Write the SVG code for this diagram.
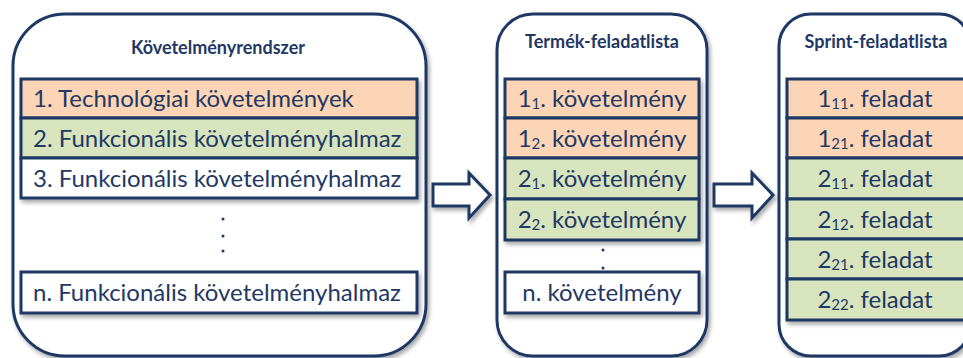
<svg xmlns="http://www.w3.org/2000/svg" width="963" height="358" viewBox="0 0 963 358">
<style>
.box{fill:#fff;stroke:#1f3864;stroke-width:3}
.row{stroke:#1f3864;stroke-width:3}
.o{fill:#fbd5b5}.g{fill:#d7e4bd}.w{fill:#fff}
.title{font-family:Lato,"Open Sans",sans-serif;font-weight:bold;font-size:18px;fill:#1f3864;text-anchor:middle}
.t{font-family:Lato,"Open Sans",sans-serif;font-size:24px;fill:#1f3864}
.c{text-anchor:middle}
.sub{font-size:15px}
.arrow{fill:#fff;stroke:#1f3864;stroke-width:3;stroke-linejoin:miter}
.dot{fill:#1f3864}
</style>
<defs>
<filter id="sh" x="-10%" y="-10%" width="130%" height="130%">
<feDropShadow dx="2" dy="3" stdDeviation="2" flood-color="#000" flood-opacity="0.35"/>
</filter>
</defs>
<g id="kovetelmenyrendszer">
<rect class="box" x="13" y="14" width="413" height="342" rx="52" filter="url(#sh)"/>
<text class="title" x="218" y="54">Követelményrendszer</text>
<g filter="url(#sh)">
<rect class="row o" x="21" y="79" width="396" height="39"/>
<rect class="row g" x="21" y="118" width="396" height="40"/>
<rect class="row w" x="21" y="158" width="396" height="40"/>
</g>
<rect class="row w" x="21" y="272" width="396" height="41" filter="url(#sh)"/>
<text class="t" x="33" y="107">1. Technológiai követelmények</text>
<text class="t" x="33" y="147">2. Funkcionális követelményhalmaz</text>
<text class="t" x="33" y="187">3. Funkcionális követelményhalmaz</text>
<text class="t" x="33" y="301">n. Funkcionális követelményhalmaz</text>
<circle class="dot" cx="223" cy="219" r="1.5"/>
<circle class="dot" cx="223" cy="236" r="1.5"/>
<circle class="dot" cx="223" cy="251" r="1.5"/>
</g>
<g id="termek-feladatlista">
<rect class="box" x="497" y="14" width="210" height="342" rx="36" filter="url(#sh)"/>
<text class="title" x="602" y="48">Termék-feladatlista</text>
<g filter="url(#sh)">
<rect class="row o" x="505" y="79" width="194" height="39"/>
<rect class="row o" x="505" y="118" width="194" height="40"/>
<rect class="row g" x="505" y="158" width="194" height="41"/>
<rect class="row g" x="505" y="199" width="194" height="41"/>
</g>
<rect class="row w" x="505" y="272" width="194" height="41" filter="url(#sh)"/>
<text class="t c" x="602" y="107">1<tspan class="sub" dy="2">1</tspan><tspan dy="-2">. követelmény</tspan></text>
<text class="t c" x="602" y="147">1<tspan class="sub" dy="2">2</tspan><tspan dy="-2">. követelmény</tspan></text>
<text class="t c" x="602" y="187">2<tspan class="sub" dy="2">1</tspan><tspan dy="-2">. követelmény</tspan></text>
<text class="t c" x="602" y="228">2<tspan class="sub" dy="2">2</tspan><tspan dy="-2">. követelmény</tspan></text>
<text class="t c" x="602" y="301">n. követelmény</text>
<circle class="dot" cx="603" cy="250" r="1.5"/>
<circle class="dot" cx="603" cy="268" r="1.5"/>
</g>
<g id="sprint-feladatlista">
<rect class="box" x="779" y="14" width="192" height="342" rx="32" filter="url(#sh)"/>
<text class="title" x="876" y="48">Sprint-feladatlista</text>
<g filter="url(#sh)">
<rect class="row o" x="787" y="79" width="182" height="39"/>
<rect class="row o" x="787" y="118" width="182" height="40"/>
<rect class="row g" x="787" y="158" width="182" height="41"/>
<rect class="row g" x="787" y="199" width="182" height="40"/>
<rect class="row g" x="787" y="239" width="182" height="40"/>
<rect class="row g" x="787" y="279" width="182" height="41"/>
</g>
<text class="t c" x="875" y="107">1<tspan class="sub" dy="2">11</tspan><tspan dy="-2">. feladat</tspan></text>
<text class="t c" x="875" y="147">1<tspan class="sub" dy="2">21</tspan><tspan dy="-2">. feladat</tspan></text>
<text class="t c" x="875" y="187">2<tspan class="sub" dy="2">11</tspan><tspan dy="-2">. feladat</tspan></text>
<text class="t c" x="875" y="228">2<tspan class="sub" dy="2">12</tspan><tspan dy="-2">. feladat</tspan></text>
<text class="t c" x="875" y="268">2<tspan class="sub" dy="2">21</tspan><tspan dy="-2">. feladat</tspan></text>
<text class="t c" x="875" y="308">2<tspan class="sub" dy="2">22</tspan><tspan dy="-2">. feladat</tspan></text>
</g>
<g id="connectors">
<path class="arrow" filter="url(#sh)" d="M433 184 H469 V173 L490 195 L469 218 V206 H433 Z"/>
<path class="arrow" filter="url(#sh)" d="M714 184 H752 V173 L773 195 L752 218 V206 H714 Z"/>
</g>
</svg>
